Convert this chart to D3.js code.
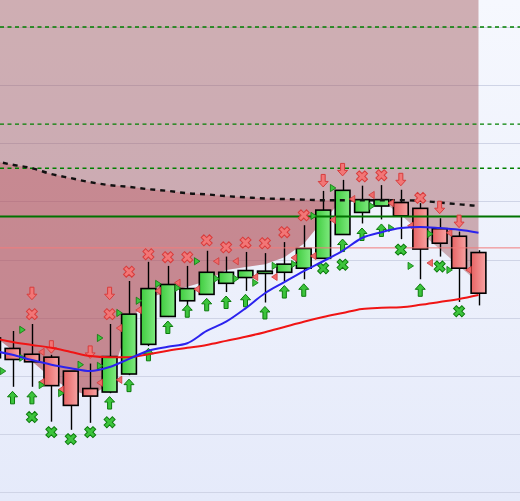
<!DOCTYPE html>
<html><head><meta charset="utf-8">
<script src="https://cdn.jsdelivr.net/npm/d3@7"></script>
<style>html,body{margin:0;padding:0;background:#fff;overflow:hidden}svg{display:block}</style>
</head><body>
<div id="chart"></div>
<script>
// ---------- data ----------
const openV  = [23.1,24.7,23.7,23.2,20.8,17.8,17.2,20.3,25.4,30.2,32.9,34.0,35.9,36.9,37.6,37.8,38.5,40.2,44.3,48.1,49.2,49.8,48.8,45.3,44.0,41.2];
const highV  = [27.9,27.7,28.9,23.6,20.8,22.1,28.9,36.3,39.6,38.9,38.9,41.5,40.5,41.3,41.1,43.0,45.9,51.8,53.7,52.7,52.8,52.0,49.7,47.1,44.8,41.6];
const lowV   = [21.9,18.1,18.1,12.1,10.7,11.9,17.0,20.1,25.1,30.1,32.1,34.0,34.4,34.6,32.6,36.2,36.6,40.2,44.3,46.2,46.9,43.5,36.6,40.5,32.7,32.1];
const closeV = [26.5,22.8,22.4,18.3,14.9,16.5,23.3,30.6,35.0,35.7,35.0,37.8,37.8,38.1,38.0,39.2,41.9,48.5,51.9,50.3,50.3,47.5,41.8,42.8,38.5,34.2];

const slowLine = [57.0,56.3,55.7,54.7,54.0,53.3,52.8,52.5,52.1,51.8,51.4,51.2,50.9,50.7,50.5,50.4,50.3,50.2,50.2,50.2,50.2,50.2,50.1,49.8,49.5,49.2];
const redMA    = [26.5,25.8,25.3,24.8,24.1,23.4,23.2,23.2,23.7,24.3,24.8,25.3,26.0,26.7,27.5,28.4,29.3,30.1,30.8,31.5,31.7,31.8,32.2,32.7,33.2,33.9];
const blueMA   = [24.3,23.6,22.7,21.9,21.3,20.8,21.5,22.9,24.3,25.0,25.6,27.7,29.3,31.6,34.2,36.1,38.0,39.7,41.5,43.7,44.7,45.4,45.6,45.4,45.1,44.6];
const shadeLow = [27.0,24.4,22.5,19.6,17.6,16.5,18.6,29.3,33.4,34.4,35.3,36.3,38.2,38.7,39.2,40.4,42.7,46.8,50.2,50.2,50.1,47.7,44.7,41.8,38.9,36.0];
const bandLow  = [27.0,24.4,22.5,19.6,17.6,16.5,18.6,29.3,33.4,34.4,35.3,36.3,38.2,38.7,39.2,40.4,42.7,46.8,50.2,null,null,null,null,null,null,null];

const redCross   = [null,null,30.6,null,null,null,30.6,37.9,40.9,40.4,40.4,43.3,42.1,42.9,42.8,44.7,47.6,null,null,54.3,54.5,null,50.6,null,null,null];
const redDown    = [null,null,34.2,25.0,null,24.1,34.2,null,null,null,null,null,null,null,null,null,null,53.6,55.5,null,null,53.8,null,49.0,46.6,null];
const greenUp    = [null,16.2,16.2,null,null,null,15.3,18.3,23.6,28.3,31.1,32.2,32.6,32.9,30.8,34.4,34.7,null,42.4,44.3,45.0,null,34.7,null,null,null];
const greenCross = [null,null,12.9,10.3,9.1,10.3,12.0,null,null,null,null,null,null,null,null,null,null,38.5,39.1,null,null,41.7,null,38.8,31.1,null];

// small triangles between bars: [slot, value]
const greenTri = [[1,20.8],[2,27.9],[2,23.1],[3,18.4],[4,17.0],[5,21.9],[6,26.5],[6,21.7],[7,30.8],[8,32.9],[9,35.8],[10,35.1],[11,39.7],[12,36.7],[13,36.7],[14,36.0],[15,38.9],[16,39.2],[17,47.5],[18,52.3],[20,49.2],[21,45.4],[22,38.9],[23,44.4],[24,38.2]];
const redTri   = [[3,24.1],[3,18.9],[4,17.6],[6,18.8],[7,28.2],[7,19.3],[8,31.3],[9,34.6],[10,36.0],[11,34.9],[12,39.7],[13,39.7],[14,37.0],[15,37.0],[16,40.3],[17,40.6],[18,46.8],[19,50.4],[20,51.1],[21,49.7],[22,45.8],[23,39.4],[24,44.6],[25,38.2]];

const gridTicks = [0,10,20,30,40,50,60,70,80];
const greenDashedLevels = [80, 63.3, 55.7];
const greenSolidLevel = 47.4;
const redLevel = 42.0;

// ---------- drawing ----------
const W = 520, H = 501;
const idx = d3.range(openV.length);
const x = d3.scaleLinear().domain([0, 25]).range([-6.9, 478.5]);
const y = d3.scaleLinear().domain([0, 80]).range([492, 27]);
const step = x(1) - x(0);
const bw = step * 0.76;

const svg = d3.select('#chart').append('svg').attr('width', W).attr('height', H);
const defs = svg.append('defs');
const bg = defs.append('linearGradient').attr('id','bg').attr('x1',0).attr('y1',0).attr('x2',0).attr('y2',1);
bg.append('stop').attr('offset','0%').attr('stop-color','#f6f8fe');
bg.append('stop').attr('offset','100%').attr('stop-color','#e5eafa');
const gG = defs.append('linearGradient').attr('id','gG').attr('x1',0).attr('y1',0).attr('x2',1).attr('y2',0);
gG.append('stop').attr('offset','0%').attr('stop-color','#3fcc3f');
gG.append('stop').attr('offset','100%').attr('stop-color','#80ea80');
const rG = defs.append('linearGradient').attr('id','rG').attr('x1',0).attr('y1',0).attr('x2',1).attr('y2',0);
rG.append('stop').attr('offset','0%').attr('stop-color','#e66464');
rG.append('stop').attr('offset','100%').attr('stop-color','#f7a2a2');

svg.append('rect').attr('width',W).attr('height',H).attr('fill','url(#bg)');

// grid
svg.append('g').selectAll('line').data(gridTicks).join('line')
  .attr('x1',0).attr('x2',W).attr('y1',d=>Math.round(y(d))+0.5).attr('y2',d=>Math.round(y(d))+0.5)
  .attr('stroke','#cfd4e6').attr('stroke-width',1);

// shaded areas
const lightArea = d3.area().x(i=>x(i)).y0(-5).y1(i=>y(shadeLow[i]));
svg.append('path').attr('d', lightArea(idx)).attr('fill','rgb(160,85,88)').attr('fill-opacity',0.45);
const darkArea = d3.area().defined(i=>bandLow[i]!=null).x(i=>x(i)).y0(i=>y(slowLine[i])).y1(i=>y(bandLow[i]));
svg.append('path').attr('d', darkArea(idx)).attr('fill','rgb(190,60,70)').attr('fill-opacity',0.3);

// candles
const cg = svg.append('g');
cg.selectAll('line').data(idx).join('line')
  .attr('x1',i=>Math.round(x(i))+0.5).attr('x2',i=>Math.round(x(i))+0.5)
  .attr('y1',i=>y(highV[i])).attr('y2',i=>y(lowV[i]))
  .attr('stroke','#000').attr('stroke-width',1.4);
cg.selectAll('rect').data(idx).join('rect')
  .attr('x',i=>x(i)-bw/2).attr('width',bw)
  .attr('y',i=>y(Math.max(openV[i],closeV[i])))
  .attr('height',i=>Math.max(1.5, Math.abs(y(openV[i])-y(closeV[i]))))
  .attr('fill',i=>closeV[i]>=openV[i]?'url(#gG)':'url(#rG)')
  .attr('stroke','#000').attr('stroke-width',1.6);

// horizontal levels
svg.append('g').selectAll('line').data(greenDashedLevels).join('line')
  .attr('x1',0).attr('x2',W).attr('y1',d=>y(d)).attr('y2',d=>y(d))
  .attr('stroke','#008000').attr('stroke-width',1.3).attr('stroke-dasharray','4,3.5');
svg.append('line').attr('x1',0).attr('x2',W).attr('y1',y(greenSolidLevel)).attr('y2',y(greenSolidLevel))
  .attr('stroke','#007300').attr('stroke-width',2.2);
svg.append('line').attr('x1',0).attr('x2',W).attr('y1',y(redLevel)).attr('y2',y(redLevel))
  .attr('stroke','#f27c7c').attr('stroke-width',1);

// dashed black line
const lineGen = arr => d3.line().x(i=>x(i)).y(i=>y(arr[i])).curve(d3.curveMonotoneX)(idx);
svg.append('path').attr('d', lineGen(slowLine)).attr('fill','none')
  .attr('stroke','#111').attr('stroke-width',2.4).attr('stroke-dasharray','5,5');

// markers
const mg = svg.append('g');
const crossPath = d3.symbol(d3.symbolCross, 76)();
const upArrow = 'M0,-6.5L5,-1L2,-1L2,6L-2,6L-2,-1L-5,-1Z';
const downArrow = 'M0,6.5L5,1L2,1L2,-6L-2,-6L-2,1L-5,1Z';
const triR = 'M-2.5,-3.6L3,0L-2.5,3.6Z';
const triL = 'M2.5,-3.6L-3,0L2.5,3.6Z';
function drawSet(arr, path, fill, stroke, rot){
  mg.append('g').selectAll('path').data(idx.filter(i=>arr[i]!=null)).join('path')
    .attr('d', path)
    .attr('transform', i=>`translate(${x(i)},${y(arr[i])})` + (rot?` rotate(${rot})`:''))
    .attr('fill', fill).attr('stroke', stroke).attr('stroke-width', 1);
}
drawSet(redCross, crossPath, '#f27676', '#d83c3c', 45);
drawSet(redDown, downArrow, '#f27676', '#d83c3c', 0);
drawSet(greenUp, upArrow, '#3cc43c', '#0b7a0b', 0);
drawSet(greenCross, crossPath, '#3cc43c', '#0b7a0b', 45);
mg.append('g').selectAll('path').data(redTri).join('path')
  .attr('d', triL).attr('transform', d=>`translate(${x(d[0]-0.5)},${y(d[1])})`)
  .attr('fill','#f06a6a').attr('stroke','#d03a3a').attr('stroke-width',0.8);
mg.append('g').selectAll('path').data(greenTri).join('path')
  .attr('d', triR).attr('transform', d=>`translate(${x(d[0]-0.5)},${y(d[1])})`)
  .attr('fill','#3cc43c').attr('stroke','#0b7a0b').attr('stroke-width',0.8);

// moving averages
svg.append('path').attr('d', lineGen(redMA)).attr('fill','none').attr('stroke','#f01414').attr('stroke-width',2);
svg.append('path').attr('d', lineGen(blueMA)).attr('fill','none').attr('stroke','#2b22ee').attr('stroke-width',2);
</script>
</body></html>
